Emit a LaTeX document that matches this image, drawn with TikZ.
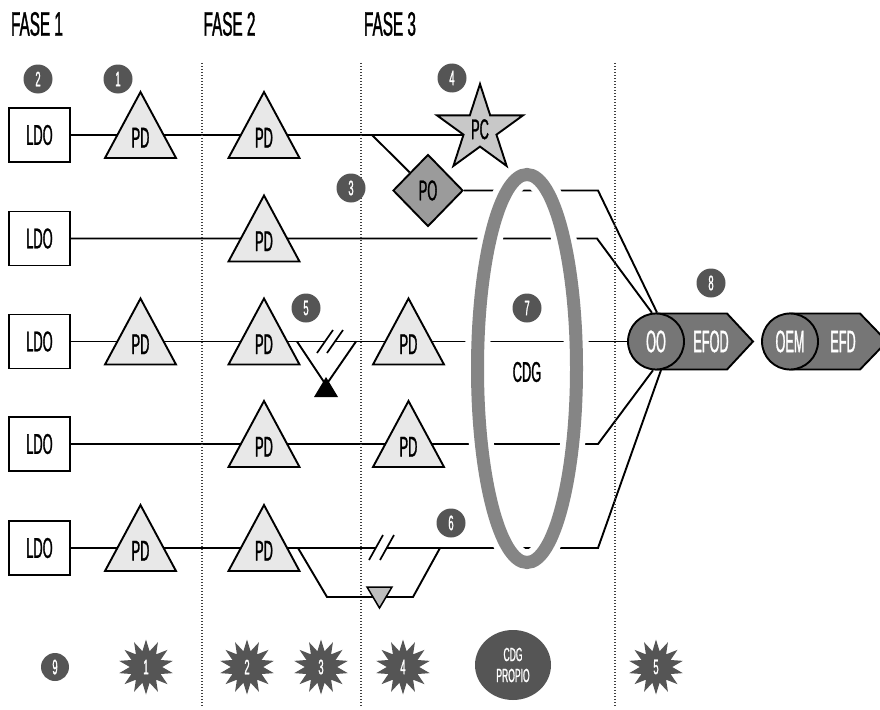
\documentclass[tikz,border=0pt]{standalone}
\usepackage{fontspec}
\newfontfamily\cf[FakeStretch=0.45,FakeBold=1]{Liberation Sans}
\newfontfamily\cfn[FakeStretch=0.41,FakeBold=1]{Liberation Sans}
\usetikzlibrary{shapes.geometric,calc}
\pgfdeclarelayer{bg}
\pgfdeclarelayer{mid}
\pgfsetlayers{bg,mid,main}
\definecolor{badge}{HTML}{555555}
\definecolor{trifill}{HTML}{E8E8E8}
\definecolor{pofill}{HTML}{9B9B9B}
\definecolor{pcfill}{HTML}{C8C8C8}
\definecolor{ringgray}{HTML}{858585}
\definecolor{arrowfill}{HTML}{767676}
\definecolor{smalltri}{HTML}{BDBDBD}
\tikzset{
  ln/.style={line width=1.9pt, line join=miter},
  tri/.style={ln, draw, fill=trifill},
  pdlbl/.style={font=\cf\fontsize{28.5}{28.5}\selectfont, inner sep=0pt, text height=25pt, text depth=0pt},
  ldobox/.style={ln, draw, fill=white, minimum width=61pt, minimum height=54pt, inner sep=0pt, font=\cf\fontsize{28.5}{28.5}\selectfont},
  badgec/.style={circle, fill=badge, minimum size=29pt, inner sep=0pt, text=white, font=\cf\fontsize{21}{21}\selectfont},
  burst/.style={star, star points=14, star point ratio=1.7, minimum size=55pt, inner sep=0pt, fill=badge, text=white, font=\cf\fontsize{21}{21}\selectfont},
  phase/.style={font=\cf\fontsize{34}{34}\selectfont, inner sep=0pt},
  sepline/.style={line width=1.3pt, draw=black!75, dash pattern=on 1.4pt off 1.6pt},
  wtext/.style={text=white, font=\cfn\fontsize{31}{31}\selectfont, inner sep=0pt},
  circnode/.style={circle, ln, draw, fill=arrowfill, minimum size=56pt, inner sep=0pt, text=white, font=\cfn\fontsize{31}{31}\selectfont},
}
\newcommand\pdtri[3]{%
  \draw[tri] ({#2-35.5},{#3+23}) -- (#2,{#3-43}) -- ({#2+35.5},{#3+23}) -- cycle;
  \node[pdlbl] (#1) at (#2,#3) {PD};}
\begin{document}
\begin{tikzpicture}[x=1pt,y=-1pt]
\useasboundingbox (0,0) rectangle (880,709);
% phase headers
\node[phase] (f1) at (37,24) {FASE 1};
\node[phase] (f2) at (229.5,24) {FASE 2};
\node[phase] (f3) at (390,24) {FASE 3};
% separators
\draw[sepline] (202,63) -- (202,706);
\draw[sepline] (361,63) -- (361,706);
\draw[sepline] (615,63) -- (615,706);
% LDO boxes
\node[ldobox] (ldo1) at (39.5,135) {LDO};
\node[ldobox] (ldo2) at (39.5,238.5) {LDO};
\node[ldobox] (ldo3) at (39.5,341.5) {LDO};
\node[ldobox] (ldo4) at (39.5,444) {LDO};
\node[ldobox] (ldo5) at (39.5,548) {LDO};
% triangles
\pdtri{pdA1}{140.5}{135}
\pdtri{pdB1}{264}{135}
\pdtri{pdB2}{264}{238.5}
\pdtri{pdA3}{140.5}{341.5}
\pdtri{pdB3}{264}{341.5}
\pdtri{pdC3}{408.5}{341.5}
\pdtri{pdB4}{264}{444}
\pdtri{pdC4}{408.5}{444}
\pdtri{pdA5}{140.5}{548}
\pdtri{pdB5}{264}{548}
% PC star and PO diamond
\node[star, star points=5, star point ratio=2.618, minimum size=90.6pt, inner sep=0pt, ln, draw, fill=pcfill, font=\cf\fontsize{28.5}{28.5}\selectfont] (pc) at (480,129.3) {PC};
\node[diamond, ln, draw, fill=pofill, minimum width=70pt, minimum height=72pt, inner sep=0pt, font=\cf\fontsize{28.5}{28.5}\selectfont] (po) at (428,190.5) {PO};
% output arrows
\draw[ln, fill=arrowfill] (656,313.5) -- (727,313.5) -- (753,341.5) -- (727,369.5) -- (656,369.5) -- cycle;
\node[circnode] (oo) at (656,341.5) {OO};
\node[wtext] (efod) at (711,341.5) {EFOD};
\draw[ln, fill=arrowfill] (790,313.5) -- (860,313.5) -- (887,341.5) -- (860,369.5) -- (790,369.5) -- cycle;
\node[circnode] (oem) at (790,341.5) {OEM};
\node[wtext] (efd) at (843,341.5) {EFD};
% bend points
\coordinate (br1) at (372,135);
\coordinate (bp1) at (598,190.5);
\coordinate (bp2) at (597,238.5);
\coordinate (bp4) at (598,444);
\coordinate (bp5) at (598,548);
% connectors
\begin{pgfonlayer}{bg}
\draw[ln] (ldo1) -- (pdA1) -- (pdB1) -- (pdB1 -| pc);
\draw[ln] (br1) -- (po);
\draw[ln] (po) -- (bp1) -- (oo.88);
\draw[ln] (ldo2) -- (pdB2) -- (bp2) -- (oo.98);
\draw[ln] (ldo3) -- (pdA3) -- (pdB3) -- (pdC3) -- (oo);
\draw[ln] (ldo4) -- (pdB4) -- (pdC4) -- (bp4) -- (oo.-96);
\draw[ln] (ldo5) -- (pdA5) -- (pdB5) -- (bp5) -- (oo.-80);
\end{pgfonlayer}
% CDG ring
\begin{pgfonlayer}{mid}
\draw[white, line width=25pt] (527,368.5) ellipse [x radius=49.5, y radius=194];
\draw[ringgray, line width=13pt] (527,368.5) ellipse [x radius=49.5, y radius=194];
\end{pgfonlayer}
\node[font=\cf\fontsize{28.5}{28.5}\selectfont, inner sep=0pt] (cdg) at (527,372) {CDG};
% row 3 bypass
\draw[ln] (297,341.5) -- (326,385) -- (356,341.5);
\fill (314,397) -- (326,377) -- (338,397) -- cycle;
\fill[white] (317,353) -- (333,330) -- (343,330) -- (327,353) -- cycle;
\draw[line width=1.7pt] (317,353) -- (333,330) (327,353) -- (343,330);
% row 5 bypass
\draw[ln] (298,548) -- (327,597) -- (413,597) -- (440,548);
\draw[line width=1.5pt, fill=smalltri] (367,587) -- (392,587) -- (379.5,608) -- cycle;
\fill[white] (369,560) -- (383,535) -- (394,535) -- (380,560) -- cycle;
\draw[line width=1.7pt] (369,560) -- (383,535) (380,560) -- (394,535);
% badges
\node[badgec] (b2) at (38,79) {2};
\node[badgec] (b1) at (118,79) {1};
\node[badgec] (b4) at (452,78) {4};
\node[badgec] (b3) at (351,188) {3};
\node[badgec] (b5) at (306,308) {5};
\node[badgec] (b7) at (527,308) {7};
\node[badgec] (b8) at (711,283) {8};
\node[badgec] (b6) at (451,523) {6};
% bottom row
\node[badgec, minimum size=28pt] (b9) at (55,667) {9};
\node[burst] (s1) at (146,667) {1};
\node[burst] (s2) at (247,667) {2};
\node[burst] (s3) at (321,667) {3};
\node[burst] (s4) at (403,667) {4};
\node[burst] (s5) at (656,667) {5};
\node[ellipse, fill=badge, minimum width=76pt, minimum height=70pt, inner sep=0pt, text=white, align=center, font=\cf\fontsize{19}{21}\selectfont] (cdgp) at (513,665) {CDG\\PROPIO};
\end{tikzpicture}
\end{document}
